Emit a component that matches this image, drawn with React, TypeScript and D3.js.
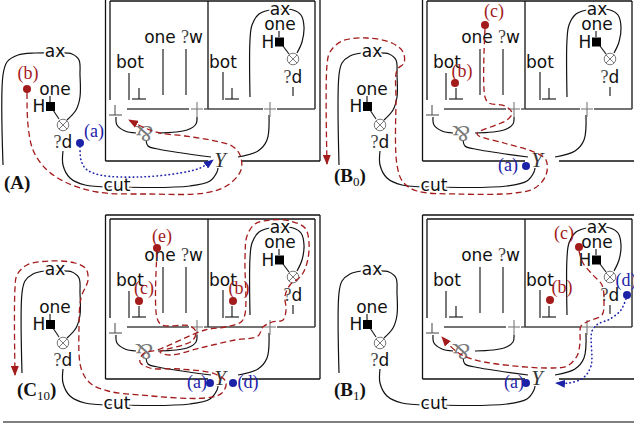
import React from 'react';
import * as d3 from 'd3';

type Pt = [number, number];

const RED = '#a31b1b';
const BLUE = '#1c22a8';
const GLYPH = '#7a7a7a';
const SANS = 'DejaVu Sans, sans-serif';
const SERIF = 'Liberation Serif, DejaVu Serif, serif';

// the four copies of the net
const panels = [
  { id: 'A', dx: 0, dy: 0, name: 'A', sub: '', labelX: 4, labelY: 189 },
  { id: 'B0', dx: 317, dy: 0, name: 'B', sub: '0', labelX: 17, labelY: 182 },
  { id: 'C10', dx: 0, dy: 218, name: 'C', sub: '10', labelX: 17, labelY: 178 },
  { id: 'B1', dx: 317, dy: 218, name: 'B', sub: '1', labelX: 17, labelY: 178 },
];

// left ax loop (panel A has a wider loop, bottom panels a shorter leg)
const leftLoopWide: Pt[] = [[3, 165], [3, 75], [7, 62], [18, 55], [35, 53], [55, 53], [72, 54], [79, 60], [80, 75], [80, 97], [76, 110], [67, 120]];
const leftLoop: Pt[] = [[22, 165], [22, 75], [25, 63], [33, 56], [45, 53], [55, 53], [72, 54], [79, 60], [80, 75], [80, 97], [76, 110], [67, 120]];
const leftLoopShort: Pt[] = [[22, 155], [22, 75], [25, 63], [33, 56], [45, 53], [55, 53], [72, 54], [79, 60], [80, 75], [80, 97], [76, 110], [67, 120]];
const loopByPanel: Record<string, Pt[]> = { A: leftLoopWide, B0: leftLoop, C10: leftLoopShort, B1: leftLoopShort };

// curved wires of the net
const wires: Pt[][] = [
  [[63, 151], [63, 165], [70, 178], [85, 185], [117, 187], [190, 186], [210, 181], [217, 172], [218, 168]],
  [[116, 117], [117, 125], [125, 131], [136, 133]],
  [[197, 117], [196, 124], [187, 130], [158, 133]],
  [[146, 140], [148, 146], [158, 149], [211, 157]],
  [[238, 157], [258, 151], [267, 140], [269, 115]],
  [[250, 97], [250, 40], [252, 25], [259, 14], [270, 10], [280, 9], [293, 10], [301, 15], [304, 27], [302, 42], [297, 53]],
];

// straight segments (inside boxes, ticks)
const segments: Pt[][] = [
  [[53, 110], [59, 119]], [[50, 96], [50, 102]],
  [[129, 73], [129, 100]], [[139, 88], [139, 99]], [[132, 99], [146, 99]],
  [[163, 49], [163, 95]], [[186, 49], [186, 95]],
  [[223, 72], [223, 100]], [[232, 88], [232, 99]], [[225, 99], [239, 99]],
  [[283, 46], [289, 54]], [[279, 31], [279, 37]], [[293, 87], [293, 96]],
];

// box edges
const boxEdges: Pt[][] = [
  [[105.5, -3], [320, -3]], [[105.5, -3], [105.5, 161]], [[320, -3], [320, 161]],
  [[105.5, 161], [208, 161]], [[242, 161], [320, 161]],
  [[110, 1], [315, 1]], [[110, 1], [110, 100]], [[208, 1], [208, 109]], [[315, 1], [315, 109]],
];
const boxBottoms: Pt[][] = [
  [[127, 109], [189, 109]], [[204, 109], [208, 109]], [[208, 109], [263, 109]], [[277, 109], [315, 109]],
];

const plusGlyphs: Pt[] = [[197, 109], [270, 109]];
const tensorGlyphs: Pt[] = [[63, 125], [293, 59]];
const squares: Pt[] = [[46, 102], [275, 37.5]];

const sansLabels = [
  { t: 'ax', x: 55, y: 57, halo: true }, { t: 'one', x: 55, y: 95 }, { t: 'H', x: 39, y: 112 },
  { t: 'bot', x: 130, y: 68 }, { t: 'one', x: 160, y: 43 }, { t: 'bot', x: 223, y: 68 },
  { t: 'ax', x: 280, y: 15, halo: true }, { t: 'one', x: 280, y: 30 }, { t: 'H', x: 268, y: 48 },
  { t: 'cut', x: 117, y: 191, halo: true },
];
const whyNotLabels = [{ t: 'd', x: 63, y: 148 }, { t: 'w', x: 192, y: 43 }, { t: 'd', x: 293, y: 83 }];

// traced paths per panel
const redPaths: { panel: string; pts: Pt[] }[] = [
  { panel: 'A', pts: [[27, 93], [28, 125], [33, 150], [45, 168], [65, 182], [97, 192], [150, 194], [205, 193], [228, 185], [241, 170], [240, 155], [232, 146], [210, 140], [185, 136], [160, 133], [145, 128], [129, 120]] },
  { panel: 'B0', pts: [[168, 29], [168, 97], [172, 103], [188, 106], [195, 113], [190, 120], [160, 134], [187, 143], [217, 152], [229, 160], [229, 175], [218, 188], [198, 193], [140, 194], [100, 191], [86, 182], [80, 165], [79, 100], [80, 70], [87, 63], [86, 52], [75, 43], [50, 38], [25, 41], [13, 52], [10, 65], [10, 164]] },
  { panel: 'C10', pts: [[157, 34], [157, 100], [162, 107], [190, 108], [196, 114], [192, 123], [160, 134], [170, 137], [200, 130], [235, 122], [258, 118], [263, 109], [272, 104], [283, 102], [286, 92], [285, 78], [290, 67], [301, 58], [307, 45], [309, 25], [305, 10], [290, 3], [270, 2], [255, 6], [247, 18], [245, 40], [245, 96], [241, 104], [225, 109], [205, 112], [160, 131], [143, 136], [140, 144], [150, 150], [180, 151], [215, 156], [226, 164], [222, 175], [205, 180], [140, 177], [108, 173], [90, 165], [81, 150], [79, 110], [81, 80], [88, 62], [86, 51], [75, 45], [50, 43], [27, 47], [17, 57], [15, 70], [15, 157]] },
  { panel: 'B1', pts: [[262, 33], [266, 45], [276, 57], [285, 67], [287, 84], [285, 97], [272, 103], [264, 108], [263, 125], [260, 138], [250, 148], [230, 150], [180, 146], [155, 141], [140, 134], [125, 119]] },
];
const bluePaths: { panel: string; pts: Pt[] }[] = [
  { panel: 'A', pts: [[80, 147], [81, 160], [86, 169], [100, 175], [140, 177], [180, 173], [200, 168], [213, 160]] },
  { panel: 'B1', pts: [[309, 81], [304, 92], [293, 101], [281, 106], [275, 113], [274, 148], [266, 160], [252, 165], [239, 165]] },
];

const tokens = [
  { panel: 'A', tag: '(b)', c: RED, x: 27, y: 89, tx: 28, ty: 79 },
  { panel: 'A', tag: '(a)', c: BLUE, x: 80, y: 143, tx: 94, ty: 137 },
  { panel: 'B0', tag: '(c)', c: RED, x: 168, y: 25, tx: 177, ty: 17 },
  { panel: 'B0', tag: '(b)', c: RED, x: 138, y: 83, tx: 145, ty: 77 },
  { panel: 'B0', tag: '(a)', c: BLUE, x: 209, y: 166, tx: 191, ty: 171 },
  { panel: 'C10', tag: '(e)', c: RED, x: 157, y: 30, tx: 162, ty: 24 },
  { panel: 'C10', tag: '(c)', c: RED, x: 139, y: 83, tx: 144, ty: 76 },
  { panel: 'C10', tag: '(b)', c: RED, x: 233, y: 83, tx: 239, ty: 76 },
  { panel: 'C10', tag: '(a)', c: BLUE, x: 210, y: 165, tx: 197, ty: 170 },
  { panel: 'C10', tag: '(d)', c: BLUE, x: 233, y: 165, tx: 248, ty: 170 },
  { panel: 'B1', tag: '(c)', c: RED, x: 262, y: 29, tx: 247, ty: 21 },
  { panel: 'B1', tag: '(b)', c: RED, x: 233, y: 82, tx: 245, ty: 75 },
  { panel: 'B1', tag: '(d)', c: BLUE, x: 310, y: 77, tx: 309, ty: 68 },
  { panel: 'B1', tag: '(a)', c: BLUE, x: 209, y: 165, tx: 197, ty: 170 },
];

const curved = d3.line<Pt>().curve(d3.curveCatmullRom.alpha(0.5));
const straight = d3.line<Pt>();

const Net: React.FC<{ p: typeof panels[number] }> = ({ p }) => {
  const x = d3.scaleLinear().domain([0, 317]).range([p.dx, p.dx + 317]);
  const y = d3.scaleLinear().domain([0, 210]).range([p.dy, p.dy + 210]);
  const map = (pts: Pt[]): Pt[] => pts.map(([a, b]) => [x(a), y(b)]);
  const reds = redPaths.filter(r => r.panel === p.id);
  const blues = bluePaths.filter(r => r.panel === p.id);
  const toks = tokens.filter(t => t.panel === p.id);

  return (
    <g>
      {boxEdges.map((s, i) => <path key={'b' + i} d={straight(map(s))!} stroke="#111" strokeWidth={1.3} fill="none" />)}
      {boxBottoms.map((s, i) => <path key={'bb' + i} d={straight(map(s))!} stroke="#444" strokeWidth={1.3} fill="none" />)}
      <path d={curved(map(loopByPanel[p.id]))!} stroke="#111" strokeWidth={1.2} fill="none" />
      {wires.map((w, i) => <path key={'w' + i} d={curved(map(w))!} stroke="#111" strokeWidth={1.2} fill="none" />)}
      {segments.map((s, i) => <path key={'s' + i} d={straight(map(s))!} stroke="#222" strokeWidth={1.2} fill="none" />)}

      {/* big bottom glyph of the left box */}
      <path d={straight(map([[115, 105], [115, 115]]))!} stroke="#555" strokeWidth={1.1} />
      <path d={straight(map([[109, 115], [122, 115]]))!} stroke="#555" strokeWidth={1.1} />
      {plusGlyphs.map(([a, b], i) => (
        <g key={'p' + i} stroke={GLYPH} strokeWidth={1.1}>
          <line x1={x(a - 6)} x2={x(a + 6)} y1={y(b)} y2={y(b)} />
          <line x1={x(a)} x2={x(a)} y1={y(b - 7)} y2={y(b + 8)} />
        </g>
      ))}
      {tensorGlyphs.map(([a, b], i) => (
        <g key={'t' + i} stroke={GLYPH} strokeWidth={1} fill="white">
          <circle cx={x(a)} cy={y(b)} r={5.8} />
          <line x1={x(a - 4)} x2={x(a + 4)} y1={y(b - 4)} y2={y(b + 4)} />
          <line x1={x(a - 4)} x2={x(a + 4)} y1={y(b + 4)} y2={y(b - 4)} />
        </g>
      ))}
      {squares.map(([a, b], i) => <rect key={'q' + i} x={x(a)} y={y(b)} width={9} height={9} fill="#000" />)}
      <text x={x(144)} y={y(133)} textAnchor="middle" dominantBaseline="central" fontFamily={SERIF} fontSize={23} fill={GLYPH}
        transform={`rotate(180 ${x(144)} ${y(133)})`}>&amp;</text>
      <text x={x(220)} y={y(167)} textAnchor="middle" fontFamily={SERIF} fontStyle="italic" fontSize={21} fill="#333">Y</text>

      {sansLabels.map((l, i) => (
        <text key={'l' + i} x={x(l.x)} y={y(l.y)} textAnchor="middle" fontFamily={SANS} fontSize={17} fill="#111"
          stroke={l.halo ? 'white' : 'none'} strokeWidth={l.halo ? 4 : 0} paintOrder="stroke">{l.t}</text>
      ))}
      {whyNotLabels.map((l, i) => (
        <text key={'q' + i} x={x(l.x)} y={y(l.y)} textAnchor="middle" fontSize={17} fill="#111">
          <tspan fontFamily={SERIF} fill="#444" fontSize={18}>?</tspan>
          <tspan fontFamily={SANS}>{l.t}</tspan>
        </text>
      ))}

      {reds.map((r, i) => (
        <path key={'r' + i} d={curved(map(r.pts))!} stroke={RED} strokeWidth={1.3} strokeDasharray="6 3.5" fill="none" markerEnd="url(#arrRed)" />
      ))}
      {blues.map((r, i) => (
        <path key={'u' + i} d={curved(map(r.pts))!} stroke={BLUE} strokeWidth={1.6} strokeDasharray="0.5 3.5" strokeLinecap="round" fill="none" markerEnd="url(#arrBlue)" />
      ))}
      {toks.map((t, i) => (
        <g key={'k' + i}>
          <circle cx={x(t.x)} cy={y(t.y)} r={4} fill={t.c} />
          <text x={x(t.tx)} y={y(t.ty)} textAnchor="middle" fontFamily={SERIF} fontSize={18} fill={t.c}>{t.tag}</text>
        </g>
      ))}

      <text x={x(p.labelX)} y={y(p.labelY)} fontFamily={SERIF} fontSize={19} fontWeight="bold" fill="#111">
        ({p.name}
        {p.sub && <tspan fontWeight="normal" fontSize={13} dy={4}>{p.sub}</tspan>}
        {p.sub ? <tspan dy={-4}>)</tspan> : ')'}
      </text>
    </g>
  );
};

export default function App() {
  return (
    <svg width={634} height={427} style={{ position: 'absolute', left: 0, top: 0, background: 'white' }}>
      <defs>
        <marker id="arrRed" viewBox="0 0 10 8" refX={9} refY={4} markerWidth={10} markerHeight={8} markerUnits="userSpaceOnUse" orient="auto">
          <path d="M0,0 L10,4 L0,8 z" fill={RED} />
        </marker>
        <marker id="arrBlue" viewBox="0 0 10 8" refX={9} refY={4} markerWidth={10} markerHeight={8} markerUnits="userSpaceOnUse" orient="auto">
          <path d="M0,0 L10,4 L0,8 z" fill={BLUE} />
        </marker>
      </defs>
      <rect width={634} height={427} fill="white" />
      {panels.map(p => <Net key={p.id} p={p} />)}
      <line x1={3} x2={634} y1={422} y2={422} stroke="#555" strokeWidth={1.5} />
    </svg>
  );
}
